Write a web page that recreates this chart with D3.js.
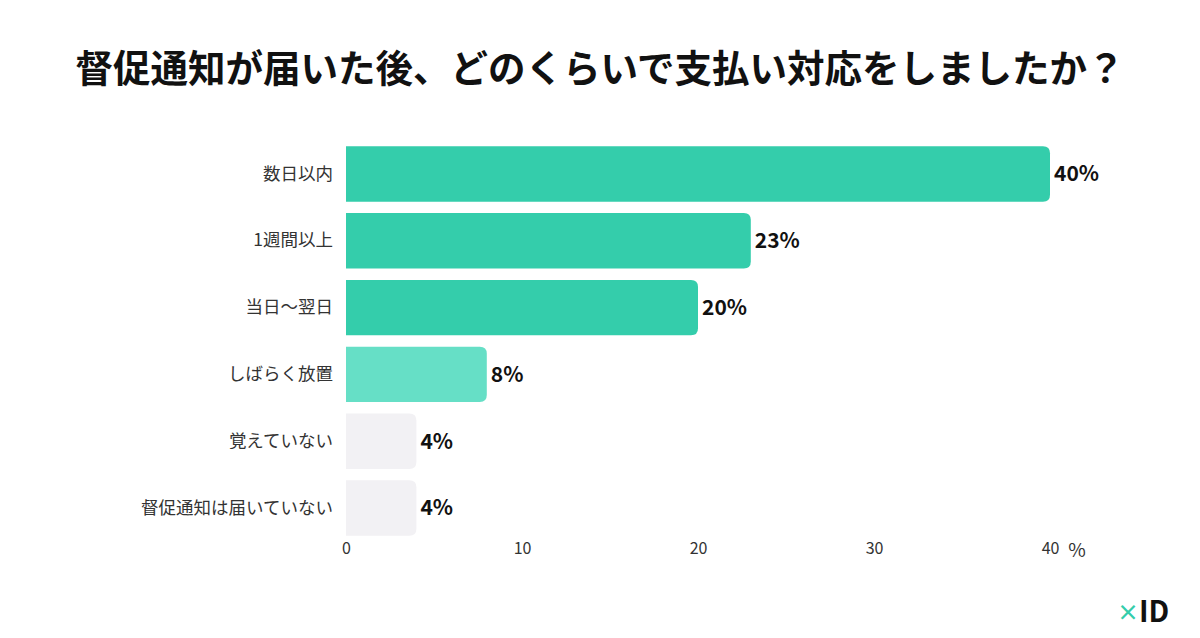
<!DOCTYPE html>
<html>
<head>
<meta charset="utf-8">
<script src="https://cdn.jsdelivr.net/npm/d3@7"></script>
<style>
  body { margin: 0; background: #fff; }
  svg text { font-family: "Noto Sans CJK JP", "Noto Sans", sans-serif; }
</style>
</head>
<body>
<div id="chart-container"></div>
<script>
const categories = ["数日以内", "1週間以上", "当日〜翌日", "しばらく放置", "覚えていない", "督促通知は届いていない"];
const values = [40, 23, 20, 8, 4, 4];
const barColors = ["#34cdab", "#34cdab", "#34cdab", "#66dfc6", "#f2f1f4", "#f2f1f4"];
const tickValues = [0, 10, 20, 30, 40];

const svgWidth = 1200;
const svgHeight = 638;
const margin = { top: 141, right: 150, bottom: 98, left: 346 };

const svg = d3.select("#chart-container")
    .append("svg")
    .attr("width", svgWidth)
    .attr("height", svgHeight);

svg.append("text")
    .attr("x", 600)
    .attr("y", 82)
    .attr("text-anchor", "middle")
    .attr("font-size", "37.5px")
    .attr("font-weight", "bold")
    .attr("fill", "#111")
    .text("督促通知が届いた後、どのくらいで支払い対応をしましたか？");

const chart = svg.append("g")
    .attr("transform", `translate(${margin.left},${margin.top})`);

const scaleX = d3.scaleLinear()
    .domain([0, 40])
    .range([0, 704]);

const scaleY = d3.scaleBand()
    .domain(categories)
    .range([0, 400])
    .paddingInner(0.17)
    .paddingOuter(0.08);

// bars with rounded right end only
function barPath(w, h, r) {
    r = Math.min(r, w / 2, h / 2);
    return `M0,0 H${w - r} Q${w},0 ${w},${r} V${h - r} Q${w},${h} ${w - r},${h} H0 Z`;
}

chart.selectAll(".bar")
    .data(values)
    .enter()
    .append("path")
    .attr("class", "bar")
    .attr("transform", (d, i) => `translate(0,${scaleY(categories[i])})`)
    .attr("d", d => barPath(scaleX(d), scaleY.bandwidth(), 7))
    .attr("fill", (d, i) => barColors[i]);

chart.selectAll(".label")
    .data(values)
    .enter()
    .append("text")
    .attr("class", "label")
    .attr("x", d => scaleX(d) + 4)
    .attr("y", (d, i) => scaleY(categories[i]) + scaleY.bandwidth() / 2)
    .attr("dy", "0.35em")
    .attr("font-size", "21px")
    .attr("font-weight", "bold")
    .attr("fill", "#111")
    .attr("font-family", "'Noto Sans', sans-serif")
    .text(d => d + "%");

const yAxis = chart.append("g")
    .call(d3.axisLeft(scaleY).tickSize(0).tickPadding(13));
yAxis.select(".domain").remove();
yAxis.selectAll("text")
    .attr("font-size", "17.5px")
    .attr("fill", "#333");

const xAxis = chart.append("g")
    .attr("transform", `translate(0,${400})`)
    .call(d3.axisBottom(scaleX).tickValues(tickValues).tickSize(0).tickPadding(2));
xAxis.select(".domain").remove();
xAxis.selectAll("text")
    .attr("font-size", "16px")
    .attr("font-family", "'Noto Sans', sans-serif")
    .attr("fill", "#333");

chart.append("text")
    .attr("x", scaleX(40) + 27)
    .attr("y", 416)
    .attr("text-anchor", "middle")
    .attr("font-size", "19px")
    .attr("font-family", "'Noto Sans', sans-serif")
    .attr("fill", "#333")
    .text("%");

// logo
const logo = svg.append("g").attr("transform", "translate(1117,611)");
logo.append("text")
    .attr("x", 0)
    .attr("y", 9)
    .attr("font-size", "22px")
    .attr("font-weight", "bold")
    .attr("font-family", "'Noto Sans', sans-serif")
    .attr("fill", "#34cdab")
    .text("×");
logo.append("text")
    .attr("x", 22)
    .attr("y", 11)
    .attr("font-size", "29px")
    .attr("font-weight", "bold")
    .attr("font-family", "'Noto Sans', sans-serif")
    .attr("fill", "#111")
    .text("ID");
</script>
</body>
</html>
